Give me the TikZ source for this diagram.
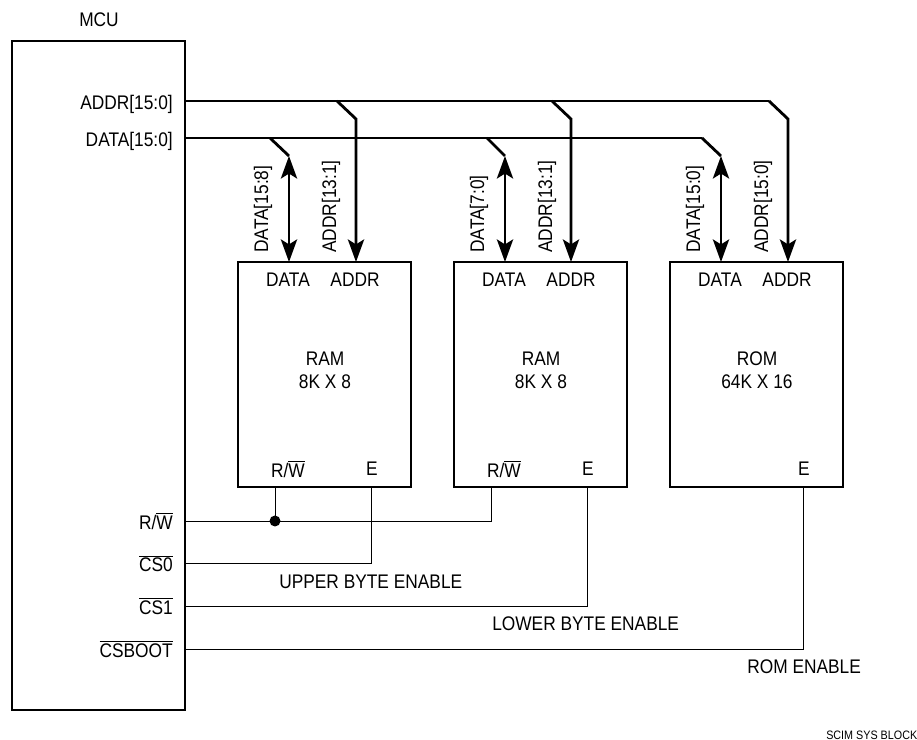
\documentclass[tikz,border=0pt]{standalone}
\usepackage{fontspec}
\setmainfont[FakeStretch=0.88]{Liberation Sans}
\usetikzlibrary{arrows.meta}
\tikzset{
  lbl/.style={font=\fontsize{14}{16}\selectfont, inner sep=0pt},
  pin/.style={lbl, anchor=east},
  vlbl/.style={lbl, rotate=90, anchor=west},
  chip/.style={draw, line width=1.1pt, minimum width=4.325cm, minimum height=5.625cm, inner sep=0pt},
  bus/.style={line width=2pt, line join=miter},
  busin/.style={bus, -{Stealth[length=16pt, width=11.5pt, inset=3.5pt]}},
  busio/.style={bus, {Stealth[length=16pt, width=11.5pt, inset=3.5pt]}-{Stealth[length=16pt, width=11.5pt, inset=3.5pt]}},
  sig/.style={line width=0.7pt},
}
\begin{document}
\begin{tikzpicture}[x=0.025cm, y=-0.025cm]
  \useasboundingbox (0,0) rectangle (917,740);
  % chips
  \node[chip, minimum width=4.325cm, minimum height=16.725cm] (mcu) at (98.5,375.5) {};
  \node[chip] (ramhi) at (324.5,374.5) {};
  \node[chip] (ramlo) at (540.5,374.5) {};
  \node[chip] (rom) at (756.5,374.5) {};
  \node[lbl] (mcutitle) at (99,20) {MCU};
  % pin labels
  \node[pin] (addrlbl) at (173,104) {ADDR[15:0]};
  \node[pin] (datalbl) at (173,141) {DATA[15:0]};
  \node[pin] (rwlbl) at (173,521) {R/$\overline{\mbox{W}}$};
  \node[pin] (cszlbl) at (173,563.5) {$\overline{\mbox{CS0}}$};
  \node[pin] (csolbl) at (173,606) {$\overline{\mbox{CS1}}$};
  \node[pin] (csblbl) at (173,649) {$\overline{\mbox{CSBOOT}}$};
  % text inside the chips
  \foreach \c/\x/\a/\b in {ramhi/0/RAM/8K X 8, ramlo/216/RAM/8K X 8, rom/432/ROM/64K X 16} {
    \node[lbl] (\c data) at (288+\x,280) {DATA};
    \node[lbl] (\c addr) at (355+\x,280) {ADDR};
    \node[lbl] (\c name) at (325+\x,359) {\a};
    \node[lbl] (\c size) at (325+\x,382) {\b};
    \node[lbl] (\c e) at (372+\x,469) {E};
  }
  \node[lbl] (ramhirw) at (288,469) {R/$\overline{\mbox{W}}$};
  \node[lbl] (ramlorw) at (504,469) {R/$\overline{\mbox{W}}$};
  % bus ends
  \coordinate (addrs) at (185,101);
  \coordinate (datas) at (185,138);
  \coordinate (addre) at (769,101);
  \coordinate (datae) at (702,138);
  % main buses
  \draw[bus] (addrs) -- (addre);
  \draw[bus] (datas) -- (datae);
  \draw[busin] (addre) -- (788,119) -- (788,262);
  \draw[busio] (721,156) -- (721,262);
  \draw[bus] (datae) -- (721,156);
  % branches
  \draw[busin] (337,101) -- (356,119) -- (356,262);
  \draw[busio] (289,156) -- (289,262);
  \draw[bus] (270,138) -- (289,156);
  \draw[busin] (552,101) -- (571,119) -- (571,262);
  \draw[busio] (505,156) -- (505,262);
  \draw[bus] (487,138) -- (505,156);
  % bus labels
  \node[vlbl] (d1lbl) at (263,253) {DATA[15:8]};
  \node[vlbl] (a1lbl) at (331,253) {ADDR[13:1]};
  \node[vlbl] (d2lbl) at (479,253) {DATA[7:0]};
  \node[vlbl] (a2lbl) at (547,253) {ADDR[13:1]};
  \node[vlbl] (d3lbl) at (695,253) {DATA[15:0]};
  \node[vlbl] (a3lbl) at (763,253) {ADDR[15:0]};
  % control lines
  \coordinate (rwpin) at (185,521);
  \coordinate (cszpin) at (185,563);
  \coordinate (csopin) at (185,606);
  \coordinate (csbpin) at (185,649);
  \coordinate (rwdot) at (275,521);
  \fill (rwdot) circle (5.5);
  \draw[sig] (rwdot) -- (275,487);
  \draw[sig] (rwpin) -- (491,521) -- (491,487);
  \draw[sig] (cszpin) -- (371,563) -- (371,487);
  \draw[sig] (csopin) -- (587,606) -- (587,487);
  \draw[sig] (csbpin) -- (803,649) -- (803,487);
  % enable labels
  \node[lbl, anchor=west] (upen) at (279,582) {UPPER BYTE ENABLE};
  \node[lbl, anchor=west] (loen) at (492,624) {LOWER BYTE ENABLE};
  \node[lbl, anchor=west] (roen) at (747,667) {ROM ENABLE};
  \node[lbl, anchor=west, font=\fontsize{8.7}{10}\selectfont] (tag) at (826,735) {SCIM SYS BLOCK};
\end{tikzpicture}
\end{document}
